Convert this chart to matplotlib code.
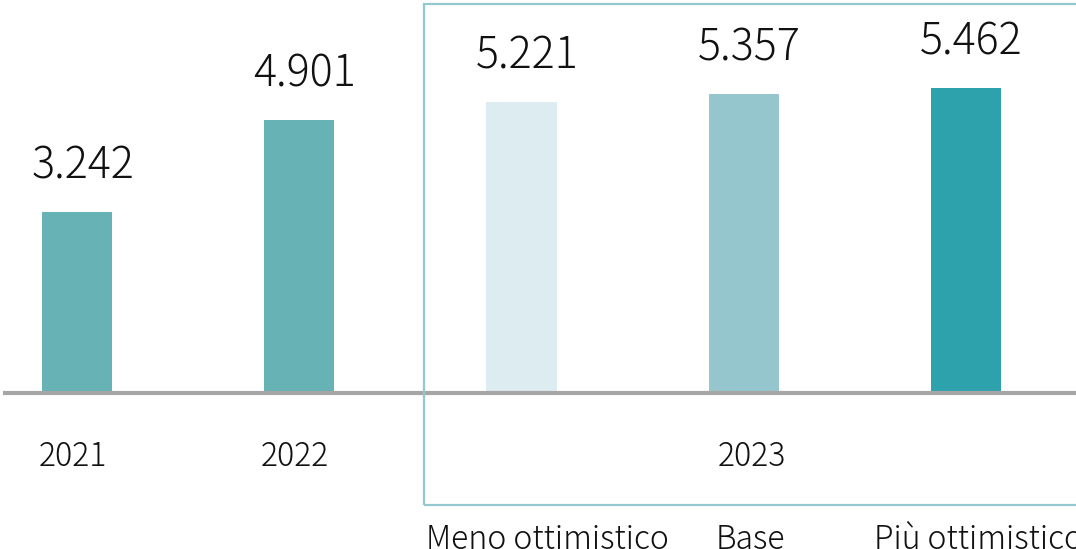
import matplotlib
matplotlib.use("Agg")
import matplotlib.pyplot as plt
from matplotlib.patches import Rectangle

plt.rcParams['font.family'] = ['Noto Sans CJK JP', 'DejaVu Sans']
plt.rcParams['font.weight'] = 'light'

# data
values = [3.242, 4.901, 5.221, 5.357, 5.462]
value_labels = ["3.242", "4.901", "5.221", "5.357", "5.462"]
bar_colors = ["#66B2B5", "#66B2B5", "#DDECF0", "#96C6CD", "#2EA2AC"]
year_labels = ["2021", "2022"]
year_2023 = "2023"
scenario_labels = ["Meno ottimistico", "Base", "Più ottimistico"]

W, H = 1076, 549
fig = plt.figure(figsize=(W / 100, H / 100), dpi=100)
ax = fig.add_axes([0, 0, 1, 1])

x = list(range(len(values)))
step = 222.25  # px per category
scale = 55.8   # px per unit
ax.set_xlim(-77 / step, (W - 77) / step)
ax.set_ylim(-(H - 393) / scale, 393 / scale)
ax.axis('off')

ax.bar(x, values, width=70 / step, color=bar_colors, zorder=2)
ax.axhline(0, xmin=5 / W, xmax=1, color="#A6A6A6", lw=3, zorder=3)

for xi, v, lab in zip(x, values, value_labels):
    ax.annotate(lab, (xi, v), xytext=(4, 24), textcoords='offset points',
                ha='center', va='baseline', fontsize=31, color='#111111')

# year labels
for xi, lab in zip(x[:2], year_labels):
    ax.annotate(lab, (xi, 0), xytext=(-3, -46), textcoords='offset points',
                ha='center', va='center', fontsize=23, color='#111111')
ax.annotate(year_2023, ((x[2] + x[4]) / 2, 0), xytext=(6, -46),
            textcoords='offset points', ha='center', va='center',
            fontsize=23, color='#111111')

# scenario labels under the box
offsets = [19, 5, 9]
for xi, lab, dx in zip(x[2:], scenario_labels, offsets):
    ax.annotate(lab, (xi, 0), xytext=(dx, -112), textcoords='offset points',
                ha='center', va='baseline', fontsize=23, color='#111111',
                annotation_clip=False)

# frame around 2023 scenarios
box = Rectangle((424 / W, (H - 505) / H), 700 / W, 501 / H,
                transform=fig.transFigure, fill=False,
                edgecolor="#93C9CE", lw=1.6, zorder=1)
fig.add_artist(box)

fig.savefig("out.png", dpi=100)
